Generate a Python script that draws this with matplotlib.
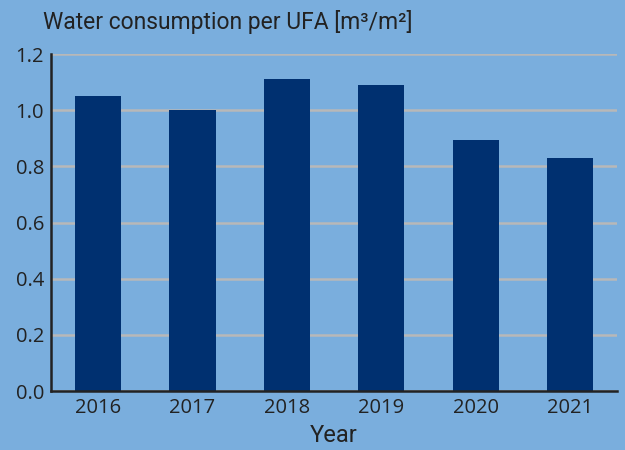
import matplotlib
matplotlib.use('Agg')
import matplotlib.pyplot as plt
import numpy as np

years = ['2016', '2017', '2018', '2019', '2020', '2021']
consumption = [1.05, 1.00, 1.11, 1.09, 0.895, 0.83]
y_ticks = [0.0, 0.2, 0.4, 0.6, 0.8, 1.0, 1.2]

bg = '#7aaedd'
bar_c = '#003070'
txt_c = '#222222'

plt.rcParams['font.family'] = ['Open Sans', 'DejaVu Sans']

fig = plt.figure(figsize=(6.25, 4.5), dpi=100, facecolor=bg)
ax = fig.add_axes([0.0816, 0.131, 0.906, 0.749], facecolor=bg)

x = np.arange(len(years))
ax.bar(x, consumption, 0.49, color=bar_c, zorder=3)

ax.set_xlim(-0.5, len(years) - 0.5)
ax.set_ylim(0, 1.2)
ax.set_yticks(y_ticks)
ax.set_yticklabels([f'{v:.1f}' for v in y_ticks])
ax.set_xticks(x)
ax.set_xticklabels(years)
ax.tick_params(length=0, labelsize=14.5, colors=txt_c, pad=5)
ax.yaxis.grid(True, color='#b8b8b8', linewidth=1.8, zorder=0)
ax.set_axisbelow(True)

for s in ['top', 'right']:
    ax.spines[s].set_visible(False)
for s in ['left', 'bottom']:
    ax.spines[s].set_color(txt_c)
    ax.spines[s].set_linewidth(1.8)
    ax.spines[s].set_zorder(4)

ax.set_xlabel('Year', fontsize=17, fontweight='normal', color=txt_c, labelpad=4,
              family=['Roboto', 'DejaVu Sans'])
fig.text(0.069, 0.951, 'Water consumption per UFA [m³/m²]', fontsize=16.5,
         color=txt_c, ha='left', va='center', family=['Roboto', 'DejaVu Sans'])

plt.savefig('out.png', dpi=100, facecolor=bg)
